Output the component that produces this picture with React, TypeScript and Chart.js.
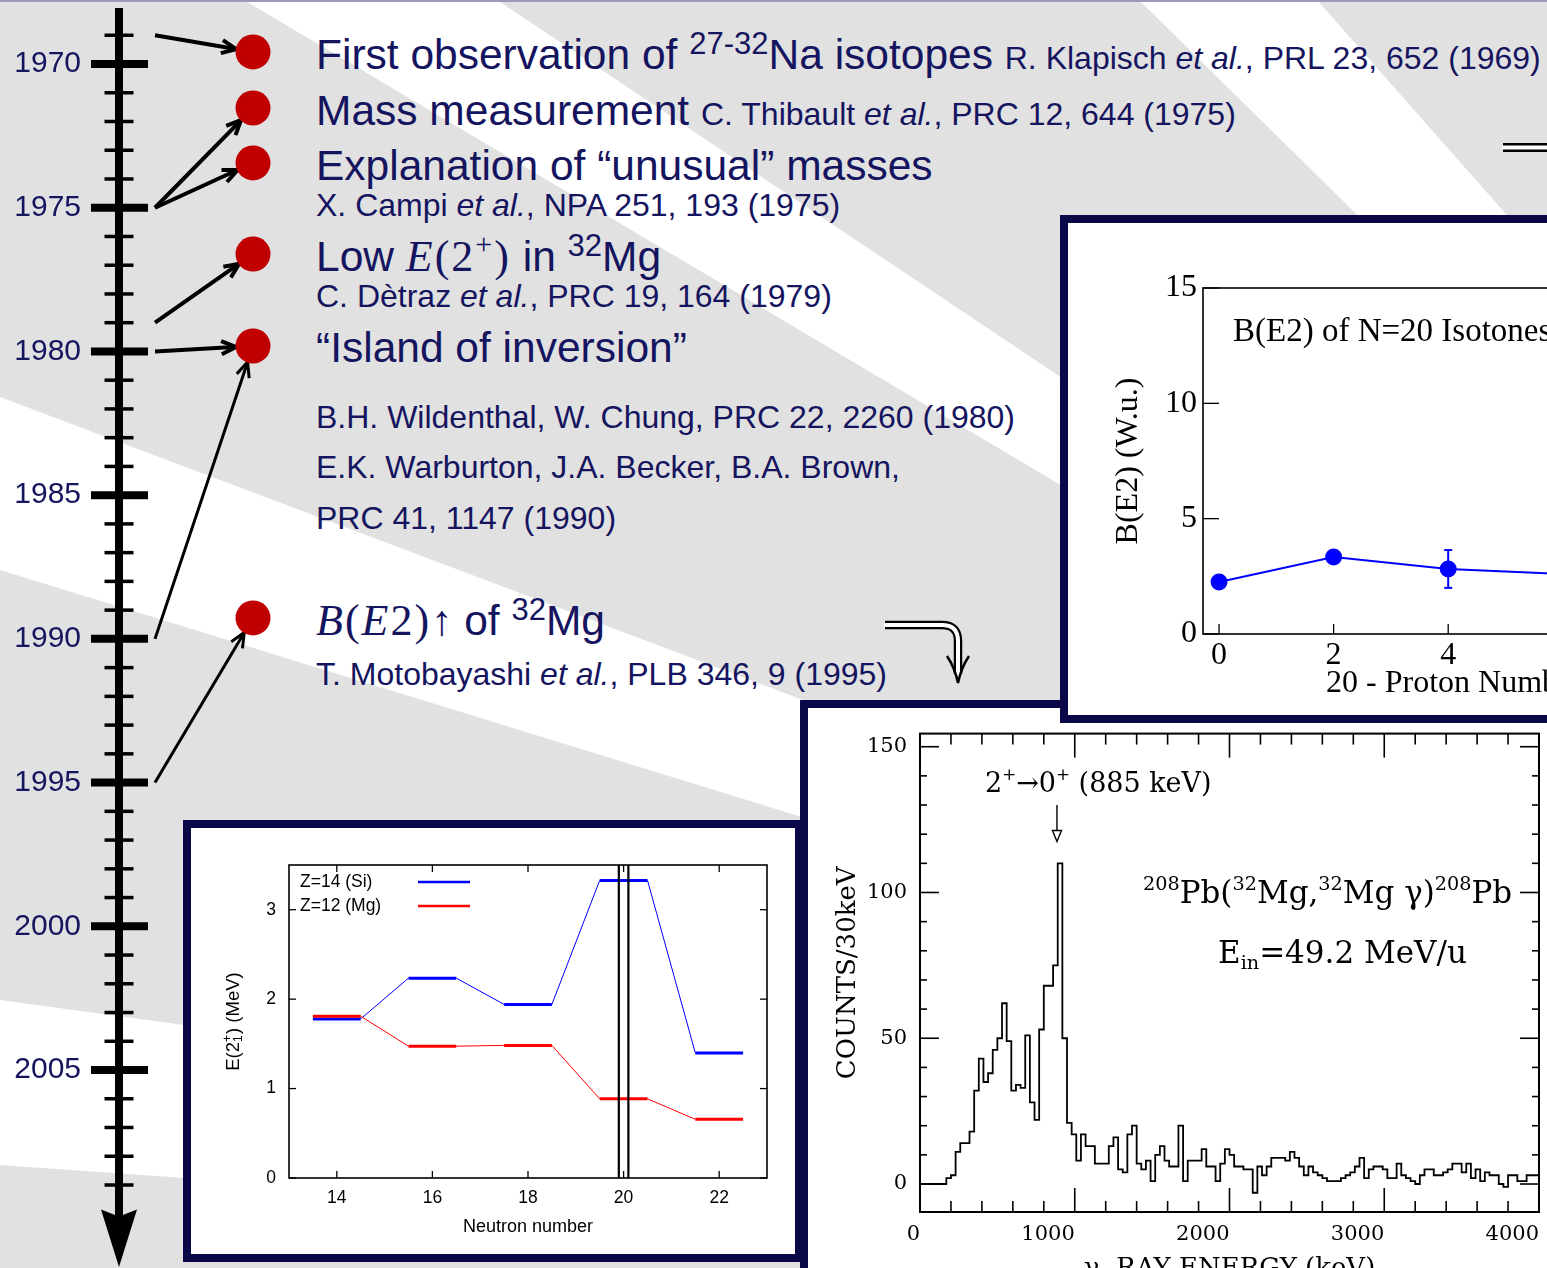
import React, { useEffect, useRef } from 'react';
import { Chart, registerables } from 'chart.js';

Chart.register(...registerables);

const SANS = '"Liberation Sans", Arial, Helvetica, sans-serif';
const SERIF = '"Liberation Serif", "Times New Roman", serif';
const DSERIF = '"DejaVu Serif", serif';
const TEXT = '#15145f';
const NAVY = '#0a0846';
const BG = '#e1e1e1';

// ---------- timeline ----------
const yearLabels = [1970, 1975, 1980, 1985, 1990, 1995, 2000, 2005];
const yearTickRange = [1969, 2009];
const eventYears = [1969.58, 1971.53, 1973.44, 1976.61, 1979.81, 1989.27];
const arrowFromYears = [1969, 1975, 1975, 1979, 1980, 1990, 1995];
const arrowTargets = [0, 1, 2, 3, 4, 4, 5];

// ---------- E(2+) systematics ----------
const neutronNumbers = [14, 16, 18, 20, 22];
const neutronTicks = [14, 16, 18, 20, 22];
const e2Ticks = [0, 1, 2, 3];
const siE2 = [1.779, 2.235, 1.941, 3.328, 1.399];
const mgE2 = [1.809, 1.474, 1.483, 0.885, 0.657];
const shellGapN = [19.9, 20.1];

// ---------- B(E2) of N=20 isotones ----------
const protonHoles = [0, 2, 4, 6];
const holeTicks = [0, 2, 4, 6, 8];
const be2Ticks = [0, 5, 10, 15];
const be2Values = [2.25, 3.34, 2.82, 2.6];
const be2Errors = [0, 0, 0.82, 0];

// ---------- gamma-ray spectrum ----------
const energyTicks = [0, 1000, 2000, 3000, 4000];
const countTicks = [0, 50, 100, 150];
const binStartKeV = -10;
const binWidthKeV = 30;
const counts = [
  0, 0, 0, 0, 0, 0, 0, 2, 3, 11,
  14, 14, 18, 32, 43, 35, 38, 46, 50, 62,
  49, 32, 34, 33, 51, 28, 22, 53, 68, 68,
  75, 110, 50, 21, 17, 8, 17, 13, 13, 7,
  7, 7, 13, 16, 5, 4, 17, 20, 7, 5,
  8, 1, 10, 13, 8, 6, 6, 20, 1, 8,
  8, 8, 12, 6, 6, 1, 7, 12, 10, 6,
  6, 5, 5, -3, 6, 3, 6, 9, 9, 9,
  8, 11, 9, 6, 3, 6, 4, 3, 2, 1,
  1, 1, 2, 3, 4, 6, 9, 2, 5, 6,
  6, 5, 2, 2, 7, 3, 2, 1, 0, 3,
  5, 5, 3, 3, 4, 5, 7, 7, 4, 7,
  2, 5, 1, 4, 3, 3, 0, -1, 3, 3,
  1, 1, 3, 3,
];
const peakArrowKeV = 885;

type Run = { t: string; sup?: boolean; sub?: boolean; it?: boolean };
function drawRuns(ctx: any, runs: Run[], x: number, y: number, size: number, family: string) {
  let cx = x;
  ctx.textAlign = 'left';
  ctx.textBaseline = 'alphabetic';
  for (const r of runs) {
    const small = r.sup || r.sub;
    const fs = small ? size * 0.62 : size;
    ctx.font = `${r.it ? 'italic ' : ''}${fs}px ${family}`;
    const dy = r.sup ? -size * 0.42 : r.sub ? size * 0.22 : 0;
    ctx.fillText(r.t, cx, y + dy);
    cx += ctx.measureText(r.t).width;
  }
}

function line(ctx: any, x0: number, y0: number, x1: number, y1: number) {
  ctx.beginPath();
  ctx.moveTo(x0, y0);
  ctx.lineTo(x1, y1);
  ctx.stroke();
}

const hiddenGrid = { display: false, drawTicks: false };
const noBorder = { display: false };

// ---------- plugins ----------
const timelinePlugin = {
  id: 'timelineAxis',
  beforeDatasetsDraw(chart: any) {
    const { ctx } = chart;
    const xs = chart.scales.x;
    const ys = chart.scales.y;
    const ax = xs.getPixelForValue(0);
    const dotX = xs.getPixelForValue(1);
    ctx.save();
    ctx.strokeStyle = '#000';
    ctx.fillStyle = '#000';
    ctx.lineWidth = 8;
    line(ctx, ax, ys.getPixelForValue(1968.05), ax, ys.getPixelForValue(2010.4));
    const base = ys.getPixelForValue(2009.85);
    const tip = ys.getPixelForValue(2011.85);
    ctx.beginPath();
    ctx.moveTo(ax, tip);
    ctx.lineTo(ax - 18, base);
    ctx.lineTo(ax, base + 7);
    ctx.lineTo(ax + 18, base);
    ctx.closePath();
    ctx.fill();
    for (let yr = yearTickRange[0]; yr <= yearTickRange[1]; yr++) {
      const py = ys.getPixelForValue(yr);
      const major = yearLabels.includes(yr);
      ctx.lineWidth = major ? 8 : 3.5;
      line(ctx, ax - (major ? 28 : 14.5), py, ax + (major ? 29 : 14.5), py);
    }
    ctx.lineJoin = 'miter';
    arrowFromYears.forEach((fy, i) => {
      const x0 = ax + 36;
      const y0 = ys.getPixelForValue(fy);
      const cx = dotX;
      const cy = ys.getPixelForValue(eventYears[arrowTargets[i]]);
      const dx = cx - x0;
      const dy = cy - y0;
      const L = Math.hypot(dx, dy);
      const ux = dx / L;
      const uy = dy / L;
      const x1 = cx - ux * 17;
      const y1 = cy - uy * 17;
      ctx.lineWidth = L > 150 ? 3 : 4;
      line(ctx, x0, y0, x1 - ux * 2, y1 - uy * 2);
      const ang = Math.atan2(uy, ux);
      const hl = 16;
      const ha = 0.42;
      ctx.beginPath();
      ctx.moveTo(x1 - hl * Math.cos(ang - ha), y1 - hl * Math.sin(ang - ha));
      ctx.lineTo(x1, y1);
      ctx.lineTo(x1 - hl * Math.cos(ang + ha), y1 - hl * Math.sin(ang + ha));
      ctx.stroke();
    });
    ctx.restore();
  },
};

const e2Plugin = {
  id: 'e2Frame',
  afterDraw(chart: any) {
    const { ctx, chartArea: a } = chart;
    const xs = chart.scales.x;
    const ys = chart.scales.y;
    ctx.save();
    ctx.strokeStyle = '#000';
    ctx.lineWidth = 1.6;
    ctx.strokeRect(a.left, a.top, a.right - a.left, a.bottom - a.top);
    ctx.lineWidth = 1.3;
    neutronTicks.forEach((n) => {
      const px = xs.getPixelForValue(n);
      line(ctx, px, a.bottom, px, a.bottom - 7);
      line(ctx, px, a.top, px, a.top + 7);
    });
    e2Ticks.forEach((v) => {
      const py = ys.getPixelForValue(v);
      line(ctx, a.left, py, a.left + 7, py);
      line(ctx, a.right, py, a.right - 7, py);
    });
    // legend
    ctx.fillStyle = '#000';
    ctx.font = `17.5px ${SANS}`;
    ctx.textBaseline = 'middle';
    ctx.textAlign = 'left';
    const lx = a.left + 11;
    ctx.fillText('Z=14 (Si)', lx, a.top + 17);
    ctx.fillText('Z=12 (Mg)', lx, a.top + 41);
    ctx.lineWidth = 2.5;
    ctx.strokeStyle = '#0000ff';
    line(ctx, a.left + 129, a.top + 17, a.left + 181, a.top + 17);
    ctx.strokeStyle = '#ff0000';
    line(ctx, a.left + 129, a.top + 41, a.left + 181, a.top + 41);
    // y title E(2+_1) (MeV)
    ctx.translate(41, (a.top + a.bottom) / 2);
    ctx.rotate(-Math.PI / 2);
    ctx.textBaseline = 'alphabetic';
    const fs = 18.5;
    const ss = 12;
    ctx.font = `${fs}px ${SANS}`;
    const ta = 'E(2';
    const tb = ') (MeV)';
    const wa = ctx.measureText(ta).width;
    const wb = ctx.measureText(tb).width;
    ctx.font = `${ss}px ${SANS}`;
    const ws = Math.max(ctx.measureText('+').width, ctx.measureText('1').width);
    let x = -(wa + ws + 1 + wb) / 2;
    const base = fs * 0.36;
    ctx.font = `${fs}px ${SANS}`;
    ctx.fillText(ta, x, base);
    x += wa;
    ctx.font = `${ss}px ${SANS}`;
    ctx.fillText('+', x, base - fs * 0.42);
    ctx.fillText('1', x, base + fs * 0.2);
    x += ws + 1;
    ctx.font = `${fs}px ${SANS}`;
    ctx.fillText(tb, x, base);
    ctx.restore();
  },
};

const be2Plugin = {
  id: 'be2Frame',
  beforeDatasetsDraw(chart: any) {
    const { ctx } = chart;
    const xs = chart.scales.x;
    const ys = chart.scales.y;
    ctx.save();
    ctx.strokeStyle = '#0000ff';
    ctx.lineWidth = 2;
    protonHoles.forEach((h, i) => {
      const e = be2Errors[i];
      if (!e) return;
      const px = xs.getPixelForValue(h);
      const lo = ys.getPixelForValue(be2Values[i] - e);
      const hi = ys.getPixelForValue(be2Values[i] + e);
      line(ctx, px, lo, px, hi);
      line(ctx, px - 4, lo, px + 4, lo);
      line(ctx, px - 4, hi, px + 4, hi);
    });
    ctx.restore();
  },
  afterDraw(chart: any) {
    const { ctx, chartArea: a } = chart;
    const xs = chart.scales.x;
    const ys = chart.scales.y;
    ctx.save();
    ctx.strokeStyle = '#000';
    ctx.lineWidth = 1.6;
    ctx.strokeRect(a.left, a.top, a.right - a.left, a.bottom - a.top);
    ctx.lineWidth = 1.3;
    holeTicks.forEach((h) => {
      const px = xs.getPixelForValue(h);
      line(ctx, px, a.bottom, px, a.bottom - 10);
    });
    be2Ticks.forEach((v) => {
      const py = ys.getPixelForValue(v);
      line(ctx, a.left, py, a.left + 16, py);
    });
    ctx.fillStyle = '#000';
    ctx.font = `33px ${SERIF}`;
    ctx.textBaseline = 'alphabetic';
    ctx.textAlign = 'left';
    ctx.fillText('B(E2) of N=20 Isotones', a.left + 30, a.top + 53);
    ctx.restore();
  },
};

const spectrumPlugin = {
  id: 'spectrumFrame',
  afterDraw(chart: any) {
    const { ctx, chartArea: a } = chart;
    const xs = chart.scales.x;
    const ys = chart.scales.y;
    ctx.save();
    ctx.strokeStyle = '#000';
    ctx.lineWidth = 2;
    ctx.strokeRect(a.left, a.top, a.right - a.left, a.bottom - a.top);
    ctx.lineWidth = 1.6;
    for (let e = 0; e <= 4000; e += 200) {
      const px = xs.getPixelForValue(e);
      const L = e % 1000 === 0 ? 24 : 11;
      line(ctx, px, a.bottom, px, a.bottom - L);
      line(ctx, px, a.top, px, a.top + L);
    }
    for (let c = 0; c <= 150; c += 10) {
      const py = ys.getPixelForValue(c);
      const L = c % 50 === 0 ? 19 : 7;
      line(ctx, a.left, py, a.left + L, py);
      line(ctx, a.right, py, a.right - L, py);
    }
    // peak arrow
    const px = xs.getPixelForValue(peakArrowKeV);
    const y0 = ys.getPixelForValue(130);
    const y1 = ys.getPixelForValue(117.5);
    ctx.lineWidth = 1.4;
    line(ctx, px, y0, px, y1 - 11);
    ctx.beginPath();
    ctx.moveTo(px - 4.5, y1 - 11);
    ctx.lineTo(px + 4.5, y1 - 11);
    ctx.lineTo(px, y1);
    ctx.closePath();
    ctx.stroke();
    ctx.fillStyle = '#000';
    drawRuns(ctx, [{ t: '2' }, { t: '+', sup: true }, { t: '\u21920' }, { t: '+', sup: true }, { t: ' (885 keV)' }], a.left + 65, a.top + 58, 27, DSERIF);
    drawRuns(ctx, [
      { t: '208', sup: true }, { t: 'Pb(' }, { t: '32', sup: true }, { t: 'Mg,' },
      { t: '32', sup: true }, { t: 'Mg \u03b3)' }, { t: '208', sup: true }, { t: 'Pb' },
    ], a.left + 223, a.top + 169, 31, DSERIF);
    drawRuns(ctx, [{ t: 'E' }, { t: 'in', sub: true }, { t: '=49.2 MeV/u' }], a.left + 298, a.top + 229, 31, DSERIF);
    ctx.restore();
  },
};

// ---------- configs ----------
const commonOpts = {
  responsive: false,
  animation: false,
  events: [],
};
const noPlugins = { legend: { display: false }, tooltip: { enabled: false } };

function timelineConfig(): any {
  return {
    type: 'scatter',
    data: {
      datasets: [{
        data: eventYears.map((y) => ({ x: 1, y })),
        pointRadius: 17.5,
        pointBackgroundColor: '#c00000',
        pointBorderColor: '#c00000',
        pointBorderWidth: 0,
        clip: false,
      }],
    },
    options: {
      ...commonOpts,
      layout: { padding: 0, autoPadding: false },
      plugins: noPlugins,
      scales: {
        x: { type: 'linear', display: false, min: -0.2239, max: 1.3507 },
        y: {
          type: 'linear', reverse: true, min: 1967.773, max: 2011.888,
          afterFit: (s: any) => { s.width = 89; s.paddingTop = 0; s.paddingBottom = 0; },
          afterBuildTicks: (s: any) => { s.ticks = yearLabels.map((v) => ({ value: v })); },
          grid: hiddenGrid, border: noBorder,
          ticks: { padding: 8, color: TEXT, font: { family: SANS, size: 30 }, autoSkip: false, callback: (v: any) => String(v) },
        },
      },
    },
    plugins: [timelinePlugin],
  };
}

const levelPath = (vals: number[]) =>
  neutronNumbers.flatMap((n, i) => [{ x: n - 0.5, y: vals[i] }, { x: n + 0.5, y: vals[i] }]);

function e2Config(): any {
  const levelStyle = (color: string) => ({
    borderColor: color, borderWidth: 1, pointRadius: 0, tension: 0,
    segment: { borderWidth: (c: any) => (c.p0DataIndex % 2 === 0 ? 3 : 1) },
  });
  return {
    type: 'line',
    data: {
      datasets: [
        ...shellGapN.map((n) => ({ data: [{ x: n, y: 0 }, { x: n, y: 3.5 }], borderColor: '#000', borderWidth: 2.2, pointRadius: 0 })),
        { data: levelPath(mgE2), ...levelStyle('#ff0000') },
        { data: levelPath(siE2), ...levelStyle('#0000ff') },
      ],
    },
    options: {
      ...commonOpts,
      layout: { padding: { top: 37, right: 28, left: 0, bottom: 0 }, autoPadding: false },
      plugins: noPlugins,
      scales: {
        x: {
          type: 'linear', min: 13, max: 23,
          afterFit: (s: any) => { s.height = 76; },
          afterBuildTicks: (s: any) => { s.ticks = neutronTicks.map((v) => ({ value: v })); },
          grid: hiddenGrid, border: noBorder,
          ticks: { padding: 9.5, color: '#000', font: { family: SANS, size: 17.5 }, autoSkip: false, maxRotation: 0, minRotation: 0, callback: (v: any) => String(v) },
          title: { display: true, text: 'Neutron number', color: '#000', font: { family: SANS, size: 18 }, padding: { top: 0, bottom: 16 } },
        },
        y: {
          type: 'linear', min: 0, max: 3.5,
          afterFit: (s: any) => { s.width = 98; },
          afterBuildTicks: (s: any) => { s.ticks = e2Ticks.map((v) => ({ value: v })); },
          grid: hiddenGrid, border: noBorder,
          ticks: { padding: 13, color: '#000', font: { family: SANS, size: 17.5 }, autoSkip: false, callback: (v: any) => String(v) },
        },
      },
    },
    plugins: [e2Plugin],
  };
}

function be2Config(): any {
  return {
    type: 'line',
    data: {
      datasets: [{
        data: protonHoles.map((h, i) => ({ x: h, y: be2Values[i] })),
        borderColor: '#0000ff', borderWidth: 2,
        pointRadius: 8.5, pointBackgroundColor: '#0000ff', pointBorderColor: '#0000ff', pointBorderWidth: 0,
      }],
    },
    options: {
      ...commonOpts,
      layout: { padding: { top: 65, right: 166, left: 0, bottom: 0 }, autoPadding: false },
      plugins: noPlugins,
      scales: {
        x: {
          type: 'linear', min: -0.28, max: 8.5,
          afterFit: (s: any) => { s.height = 81; },
          afterBuildTicks: (s: any) => { s.ticks = holeTicks.map((v) => ({ value: v })); },
          grid: hiddenGrid, border: noBorder,
          ticks: { padding: 2, color: '#000', font: { family: SERIF, size: 32 }, autoSkip: false, maxRotation: 0, minRotation: 0, callback: (v: any) => String(v) },
          title: { display: true, text: '20 - Proton Number', color: '#000', font: { family: SERIF, size: 32 }, padding: { top: 0, bottom: 12 } },
        },
        y: {
          type: 'linear', min: 0, max: 15,
          afterFit: (s: any) => { s.width = 135; },
          afterBuildTicks: (s: any) => { s.ticks = be2Ticks.map((v) => ({ value: v })); },
          grid: hiddenGrid, border: noBorder,
          ticks: { padding: 6, color: '#000', font: { family: SERIF, size: 32 }, autoSkip: false, callback: (v: any) => String(v) },
          title: { display: true, text: 'B(E2) (W.u.)', color: '#000', font: { family: SERIF, size: 32 }, padding: { top: 41, bottom: 0 } },
        },
      },
    },
    plugins: [be2Plugin],
  };
}

function spectrumConfig(): any {
  const pts = counts.map((c, k) => ({ x: binStartKeV + k * binWidthKeV, y: c }));
  pts.push({ x: binStartKeV + counts.length * binWidthKeV, y: counts[counts.length - 1] });
  return {
    type: 'line',
    data: {
      datasets: [{ data: pts, stepped: 'after', borderColor: '#000', borderWidth: 1.8, pointRadius: 0 }],
    },
    options: {
      ...commonOpts,
      layout: { padding: { top: 25, right: 29, left: 0, bottom: 0 }, autoPadding: false },
      plugins: noPlugins,
      scales: {
        x: {
          type: 'linear', min: 0, max: 4000,
          afterFit: (s: any) => { s.height = 76; },
          afterBuildTicks: (s: any) => { s.ticks = energyTicks.map((v) => ({ value: v })); },
          grid: hiddenGrid, border: noBorder,
          ticks: { padding: 10.4, align: 'end', color: '#000', font: { family: DSERIF, size: 21 }, autoSkip: false, maxRotation: 0, minRotation: 0, callback: (v: any) => String(v) },
          title: { display: true, text: '\u03b3- RAY ENERGY (keV)', color: '#000', font: { family: DSERIF, size: 26 }, padding: { top: 0, bottom: 3.4 } },
        },
        y: {
          type: 'linear', min: -9.6, max: 154.5,
          afterFit: (s: any) => { s.width = 112; },
          afterBuildTicks: (s: any) => { s.ticks = countTicks.map((v) => ({ value: v })); },
          grid: hiddenGrid, border: noBorder,
          ticks: { padding: 13, color: '#000', font: { family: DSERIF, size: 21 }, autoSkip: false, callback: (v: any) => String(v) },
          title: { display: true, text: 'COUNTS/30keV', color: '#000', font: { family: DSERIF, size: 26 }, padding: { top: 24.4, bottom: 0 } },
        },
      },
    },
    plugins: [spectrumPlugin],
  };
}

function ChartCanvas({ build, width, height, style }: { build: () => any; width: number; height: number; style?: any }) {
  const ref = useRef<HTMLCanvasElement | null>(null);
  useEffect(() => {
    if (!ref.current) return;
    const chart = new Chart(ref.current, build());
    return () => chart.destroy();
  }, []);
  return <canvas ref={ref} width={width} height={height} style={{ display: 'block', width, height, ...style }} />;
}

function Box({ left, top, w, h, children }: any) {
  return (
    <div style={{ position: 'absolute', left, top, width: w, height: h, border: `8px solid ${NAVY}`, background: '#fff' }}>
      {children}
    </div>
  );
}

// ---------- slide text ----------
const BIG = 42.5;
const SMALL = 32;
function TLine({ b, s, children }: any) {
  return (
    <div style={{ position: 'absolute', left: 316, top: b - s * 0.8465, fontSize: s, lineHeight: 1, whiteSpace: 'nowrap', fontFamily: SANS, color: TEXT }}>
      {children}
    </div>
  );
}
const Sup = ({ children, size = 31, raise = 15 }: any) => (
  <span style={{ fontSize: size, position: 'relative', top: -raise, lineHeight: 0 }}>{children}</span>
);
const Sm = ({ children }: any) => <span style={{ fontSize: SMALL }}>{children}</span>;
const M = ({ children }: any) => (
  <span style={{ fontFamily: SERIF, fontSize: 44, lineHeight: 0, letterSpacing: 2 }}>{children}</span>
);

const S = { x: 2500, y: 1340 };
const stripeEdges = [
  [[244, 0], [497, 0]],
  [[1139, 0], [1317, 0]],
  [[0, 397], [0, 570]],
  [[0, 1000], [0, 1165]],
];
function stripePoly(e: number[][]) {
  const far = (p: number[]) => [S.x + (p[0] - S.x) * 2, S.y + (p[1] - S.y) * 2];
  const a = far(e[0]);
  const b = far(e[1]);
  return `${S.x},${S.y} ${a[0]},${a[1]} ${b[0]},${b[1]}`;
}

export default function App() {
  return (
    <div style={{ position: 'fixed', left: 0, top: 0, width: 1547, height: 1268, overflow: 'hidden', background: BG }}>
      <svg width={1547} height={1268} style={{ position: 'absolute', left: 0, top: 0 }}>
        <rect x={0} y={0} width={1547} height={1268} fill={BG} />
        {stripeEdges.map((e, i) => <polygon key={i} points={stripePoly(e)} fill="#ffffff" />)}
        <rect x={0} y={0} width={1547} height={2} fill="#9a9abf" />
      </svg>

      <TLine b={70} s={BIG}>First observation of <Sup>27-32</Sup>Na isotopes <Sm>R. Klapisch <i>et al.</i>, PRL 23, 652 (1969)</Sm></TLine>
      <TLine b={126} s={BIG}>Mass measurement <Sm>C. Thibault <i>et al.</i>, PRC 12, 644 (1975)</Sm></TLine>
      <TLine b={181} s={BIG}>Explanation of “unusual” masses</TLine>
      <TLine b={216} s={SMALL}>X. Campi <i>et al.</i>, NPA 251, 193 (1975)</TLine>
      <TLine b={272} s={BIG}>Low <M><i>E</i>(2<Sup size={30} raise={17}>+</Sup>)</M> in <Sup>32</Sup>Mg</TLine>
      <TLine b={307} s={SMALL}>C. Dètraz <i>et al.</i>, PRC 19, 164 (1979)</TLine>
      <TLine b={363} s={BIG}>“Island of inversion”</TLine>
      <TLine b={428} s={SMALL}>B.H. Wildenthal, W. Chung, PRC 22, 2260 (1980)</TLine>
      <TLine b={478} s={SMALL}>E.K. Warburton, J.A. Becker, B.A. Brown,</TLine>
      <TLine b={529} s={SMALL}>PRC 41, 1147 (1990)</TLine>
      <TLine b={636} s={BIG}><M><i>B</i>(<i>E</i>2)</M>↑ of <Sup>32</Sup>Mg</TLine>
      <TLine b={685} s={SMALL}>T. Motobayashi <i>et al.</i>, PLB 346, 9 (1995)</TLine>

      <div style={{ position: 'absolute', left: 0, top: 0 }}>
        <ChartCanvas build={timelineConfig} width={300} height={1268} />
      </div>

      <Box left={800} top={700} w={760} h={580}>
        <ChartCanvas build={spectrumConfig} width={760} height={580} />
      </Box>
      <Box left={1060} top={215} w={804} h={492}>
        <ChartCanvas build={be2Config} width={804} height={492} />
      </Box>
      <Box left={183} top={820} w={604} h={426}>
        <ChartCanvas build={e2Config} width={604} height={426} />
      </Box>

      <svg width={1547} height={1268} style={{ position: 'absolute', left: 0, top: 0, pointerEvents: 'none' }}>
        <path d="M885 625 H942 Q958 625 958 641 V674" stroke="#000" strokeWidth={8.5} fill="none" />
        <path d="M884 625 H942 Q958 625 958 641 V676" stroke="#fff" strokeWidth={4} fill="none" />
        <path d="M947 656 Q955 668 958 683 Q961 668 969 656" stroke="#000" strokeWidth={2.5} fill="none" />
        <path d="M1503 147.5 H1560" stroke="#000" strokeWidth={9} fill="none" />
        <path d="M1502 147.5 H1560" stroke="#fff" strokeWidth={4} fill="none" />
      </svg>
    </div>
  );
}
